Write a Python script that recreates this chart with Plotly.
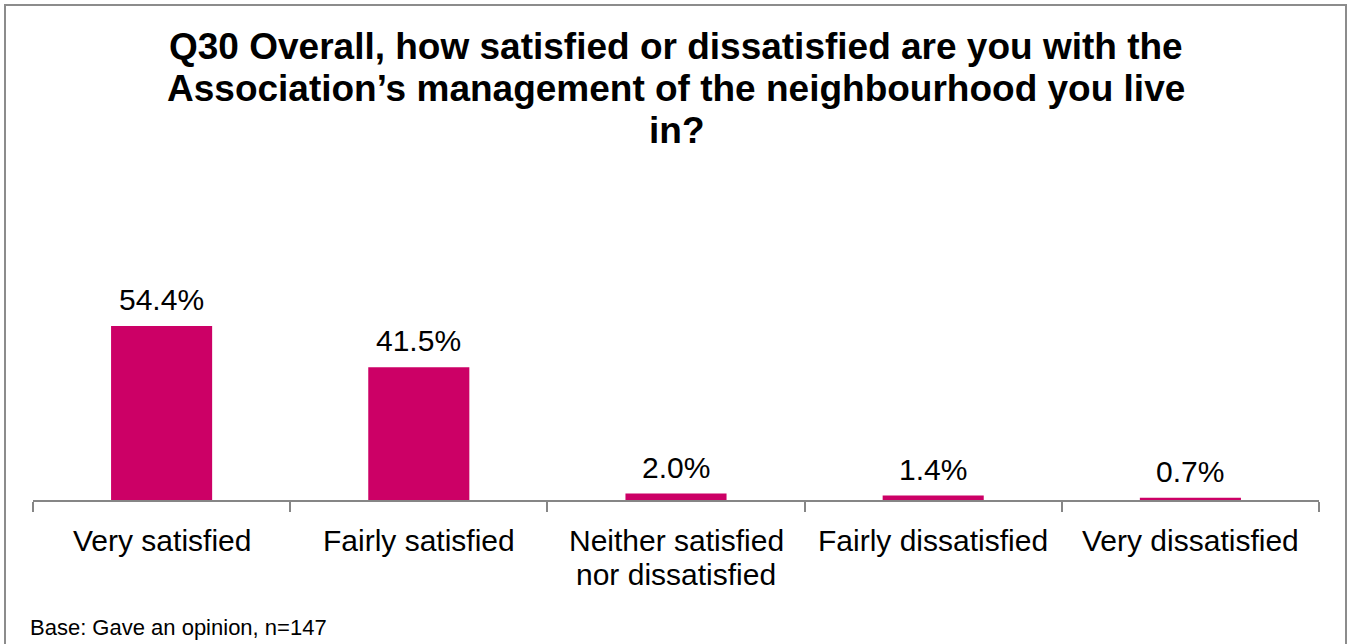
import plotly.graph_objects as go

categories = ["Very satisfied", "Fairly satisfied", "Neither satisfied<br>nor dissatisfied",
              "Fairly dissatisfied", "Very dissatisfied"]
values = [54.4, 41.5, 2.0, 1.4, 0.7]
value_labels = ["54.4%", "41.5%", "2.0%", "1.4%", "0.7%"]

title_lines = ["Q30 Overall, how satisfied or dissatisfied are you with the",
               "Association\u2019s management of the neighbourhood you live",
               "in?"]
base_note = "Base: Gave an opinion, n=147"

BAR = "#CC0066"
AXIS = "#868686"
FONT = "Liberation Sans, Arial, sans-serif"

W, H = 1351, 644
L, R, T, B = 33, 32, 150, 144
plot_w = W - L - R
plot_h = H - T - B


def py(pix):
    """Convert a pixel row (from the top) to paper y."""
    return (T + plot_h - pix) / plot_h


def px(pix):
    """Convert a pixel column (from the left) to paper x."""
    return (pix - L) / plot_w


fig = go.Figure()
fig.add_trace(go.Bar(
    x=categories, y=values,
    marker=dict(color=BAR, line=dict(width=0)),
    hoverinfo="x+y",
))

# value labels above bars
for cat, v, lab in zip(categories, values, value_labels):
    fig.add_annotation(x=cat, y=v, text=lab, showarrow=False,
                       xref="x", yref="y", yanchor="bottom", yshift=8,
                       font=dict(family=FONT, size=30, color="#000000"))

# category labels with tight line spacing
for cat in categories:
    for i, line in enumerate(cat.split("<br>")):
        fig.add_annotation(x=cat, xref="x", yref="paper", y=py(540 + 34 * i),
                           text=line, showarrow=False, yanchor="middle",
                           font=dict(family=FONT, size=30, color="#000000"))

# title, one annotation per line
for i, line in enumerate(title_lines):
    fig.add_annotation(text=line, xref="paper", yref="paper",
                       x=px(676), y=py(46 + 42 * i), xanchor="center",
                       yanchor="middle", showarrow=False,
                       font=dict(family=FONT, size=37, color="#000000", weight="bold"))

fig.add_annotation(text=base_note, xref="paper", yref="paper",
                   x=px(28), y=py(627), xanchor="left", yanchor="middle",
                   showarrow=False,
                   font=dict(family=FONT, size=22, color="#000000"))

# outer frame around the whole chart
fig.add_shape(type="rect", xref="paper", yref="paper",
              x0=px(5), x1=px(1346), y0=py(660), y1=py(5),
              line=dict(color="#8c8c8c", width=2), layer="below")

fig.update_layout(
    width=W, height=H,
    margin=dict(l=L, r=R, t=T, b=B),
    paper_bgcolor="white", plot_bgcolor="white",
    bargap=0.607,
    showlegend=False,
    xaxis=dict(showline=True, linecolor=AXIS, linewidth=2,
               ticks="outside", ticklen=10, tickcolor=AXIS, tickwidth=2,
               tickson="boundaries", showgrid=False, zeroline=False,
               showticklabels=False),
    yaxis=dict(range=[0, plot_h / 3.2], visible=False, showgrid=False, zeroline=False),
)

fig.write_html("out.html")
